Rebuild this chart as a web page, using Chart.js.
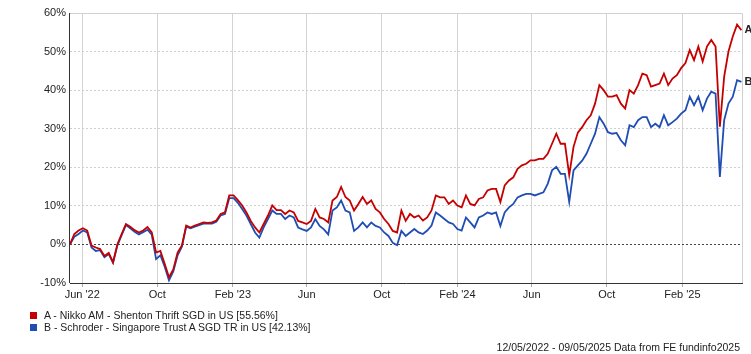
<!DOCTYPE html>
<html>
<head>
<meta charset="utf-8">
<script src="https://cdn.jsdelivr.net/npm/chart.js@4.4.1/dist/chart.umd.min.js"></script>
<style>
  html, body { margin: 0; padding: 0; background: #fff; }
  #wrap { position: relative; width: 751px; height: 354px; font-family: 'Liberation Sans', Arial, sans-serif; color: #222; }
  #chart { position: absolute; left: 0; top: 0; }
  .legend-row { position: absolute; left: 30px; font-size: 10.5px; line-height: 12px; white-space: nowrap; }
  .legend-row span.box { display: inline-block; width: 7px; height: 7px; margin-right: 7px; vertical-align: 0px; }
  #footer { position: absolute; right: 11px; top: 341px; font-size: 10.5px; line-height: 12px; white-space: nowrap; }
</style>
</head>
<body>
<div id="wrap">
  <canvas id="chart" width="751" height="354"></canvas>
  <div class="legend-row" style="top:309px"><span class="box" style="background:#c40000"></span>A - Nikko AM - Shenton Thrift SGD in US [55.56%]</div>
  <div class="legend-row" style="top:321px"><span class="box" style="background:#1f4db3"></span>B - Schroder - Singapore Trust A SGD TR in US [42.13%]</div>
  <div id="footer">12/05/2022 - 09/05/2025 Data from FE fundinfo2025</div>
</div>
<script>
// period covered by the chart
const startDate = '2022-05-12';
const endDate = '2025-05-09';

// weekly cumulative returns (%)
const nikko = [
  0, 2.7, 3.6, 4.2, 3.6, -0.3, -0.8, -1.2, -3.0, -2.2,
  -4.6, 0, 2.7, 5.3, 4.6, 3.7, 3.1, 3.6, 4.5, 3.1,
  -2.1, -1.7, -5.0, -8.5, -6.5, -2.1, -0.3, 4.9, 4.4, 4.9,
  5.3, 5.7, 5.6, 5.7, 6.2, 7.9, 8.3, 12.7, 12.7, 11.5,
  10.1, 8.3, 6.1, 4.4, 3.1, 5.3, 7.5, 10.1, 8.9, 8.9,
  7.9, 8.8, 8.3, 6.1, 5.7, 5.3, 6.1, 9.2, 7.0, 6.6,
  5.7, 11.4, 12.3, 14.9, 12.3, 11.4, 8.8, 10.5, 12.3, 10.5,
  11.4, 9.2, 8.3, 6.6, 5.3, 3.5, 3.1, 8.8, 6.1, 7.9,
  7.0, 7.5, 6.2, 7.0, 8.8, 12.7, 12.2, 12.2, 10.5, 11.4,
  10.1, 9.6, 12.7, 10.5, 10.1, 11.8, 12.2, 14.0, 14.4, 14.4,
  11.0, 15.3, 16.6, 17.4, 19.6, 20.5, 20.9, 21.8, 21.8, 22.2,
  22.2, 23.5, 26.1, 28.7, 26.1, 26.1, 18.0, 25.3, 29.0, 30.4,
  32.2, 33.5, 36.5, 41.3, 40.0, 38.3, 38.3, 38.7, 36.5, 35.2,
  40.0, 39.1, 41.3, 44.3, 43.9, 40.9, 41.3, 41.7, 44.3, 41.3,
  43.0, 43.9, 45.7, 47.0, 50.4, 47.8, 51.3, 47.4, 51.3, 53.0,
  51.3, 30.5, 43.5, 50.0, 53.9, 57.0, 55.56
];
const schroder = [
  0, 2.0, 2.7, 3.6, 3.1, -0.8, -1.7, -1.5, -3.3, -2.5,
  -4.8, -0.3, 2.4, 5.0, 4.2, 3.3, 2.6, 3.2, 3.8, 2.5,
  -3.8, -2.8, -5.8, -9.3, -7.0, -2.8, -0.6, 4.6, 4.2, 4.6,
  5.0, 5.4, 5.4, 5.4, 5.9, 7.5, 7.9, 12.0, 12.0, 10.8,
  9.2, 7.5, 5.3, 3.1, 1.8, 4.4, 6.6, 8.8, 7.9, 7.9,
  6.6, 7.5, 7.0, 4.4, 3.9, 3.5, 4.4, 6.6, 4.8, 3.9,
  2.6, 8.8, 9.6, 11.4, 8.8, 8.3, 3.5, 4.4, 5.7, 4.4,
  5.7, 4.8, 4.4, 3.1, 2.2, 0.4, -0.2, 3.5, 2.2, 3.1,
  4.0, 3.1, 2.7, 3.6, 4.9, 8.3, 7.5, 6.6, 5.7, 5.3,
  4.0, 3.6, 7.0, 5.7, 4.4, 7.0, 7.5, 8.3, 7.9, 8.3,
  4.8, 8.3, 9.6, 10.5, 12.2, 12.7, 13.1, 13.1, 12.7, 13.1,
  13.5, 15.7, 19.2, 20.1, 18.3, 18.3, 11.0, 19.2, 20.5, 21.7,
  23.5, 26.1, 28.7, 33.0, 31.3, 29.1, 28.7, 28.9, 27.0, 25.7,
  30.9, 30.4, 32.2, 33.0, 33.0, 30.4, 31.3, 30.4, 33.5, 30.9,
  31.7, 32.6, 33.9, 34.8, 38.3, 36.1, 38.3, 34.8, 37.8, 39.6,
  39.1, 17.5, 32.2, 36.5, 38.3, 42.6, 42.13
];

// x-axis tick labels
const tickDates = ['2022-06-01', '2022-10-01', '2023-02-01', '2023-06-01', '2023-10-01',
                   '2024-02-01', '2024-06-01', '2024-10-01', '2025-02-01'];
const tickLabels = ["Jun '22", 'Oct', "Feb '23", 'Jun', 'Oct', "Feb '24", 'Jun', 'Oct', "Feb '25"];

// y-axis range
const yMin = -10;
const yMax = 60;
const yStep = 10;

const seriesNames = ['A', 'B'];
const seriesColors = ['#c40000', '#1f4db3'];

const DAY = 86400000;
const dayOffset = d => Math.round((Date.parse(d) - Date.parse(startDate)) / DAY);
const totalDays = dayOffset(endDate);

// weekly points, last point sits on the end date
const toPoints = arr => arr.map((v, i) => ({ x: Math.min(i * 7, totalDays), y: v }));
const tickDays = tickDates.map(dayOffset);

const FONT = "'Liberation Sans', Arial, sans-serif";

const framePlugin = {
  id: 'frame',
  afterDatasetsDraw(chart) {
    const { ctx, chartArea: a } = chart;
    ctx.save();
    // light top and right border
    ctx.strokeStyle = '#d0d0d0';
    ctx.lineWidth = 1;
    ctx.beginPath();
    ctx.moveTo(a.left, a.top + 0.5);
    ctx.lineTo(a.right + 0.5, a.top + 0.5);
    ctx.lineTo(a.right + 0.5, a.bottom);
    ctx.stroke();
    // dark left axis
    ctx.strokeStyle = '#333';
    ctx.beginPath();
    ctx.moveTo(a.left - 0.5, a.top);
    ctx.lineTo(a.left - 0.5, a.bottom);
    ctx.stroke();

    // series letters at the end of each line
    ctx.fillStyle = '#222';
    ctx.font = 'bold 11px ' + FONT;
    ctx.textBaseline = 'middle';
    chart.data.datasets.forEach((ds, i) => {
      const meta = chart.getDatasetMeta(i);
      const last = meta.data[meta.data.length - 1];
      ctx.fillText(seriesNames[i], last.x + 3, last.y);
    });
    ctx.restore();
  }
};

new Chart(document.getElementById('chart').getContext('2d'), {
  type: 'line',
  data: {
    datasets: [
      {
        label: seriesNames[0],
        data: toPoints(nikko),
        borderColor: seriesColors[0],
        borderWidth: 1.8,
        pointRadius: 0,
        tension: 0
      },
      {
        label: seriesNames[1],
        data: toPoints(schroder),
        borderColor: seriesColors[1],
        borderWidth: 1.8,
        pointRadius: 0,
        tension: 0
      }
    ]
  },
  options: {
    responsive: false,
    animation: false,
    layout: { padding: { top: 13, right: 9, bottom: 51, left: 0 } },
    plugins: {
      legend: { display: false },
      tooltip: { enabled: false }
    },
    scales: {
      x: {
        type: 'linear',
        min: 0,
        max: totalDays,
        afterBuildTicks: scale => { scale.ticks = tickDays.map(v => ({ value: v })); },
        afterFit: scale => { scale.height = 20; },
        ticks: {
          autoSkip: false,
          maxRotation: 0,
          padding: 1,
          color: '#222',
          font: { size: 11, family: FONT },
          callback: value => tickLabels[tickDays.indexOf(value)]
        },
        grid: { color: '#d4d4d4', tickColor: '#aaa', tickLength: 4 },
        border: { display: true, color: '#333', width: 1 }
      },
      y: {
        min: yMin,
        max: yMax,
        afterFit: scale => { scale.width = 70; },
        ticks: {
          stepSize: yStep,
          padding: 4,
          color: '#222',
          font: { size: 11, family: FONT },
          callback: v => v + '%'
        },
        grid: {
          drawTicks: false,
          color: c => (c.tick && c.tick.value === 0 ? '#444' : '#cfcfcf')
        },
        border: { display: false, dash: [2, 2] }
      }
    }
  },
  plugins: [framePlugin]
});
</script>
</body>
</html>
